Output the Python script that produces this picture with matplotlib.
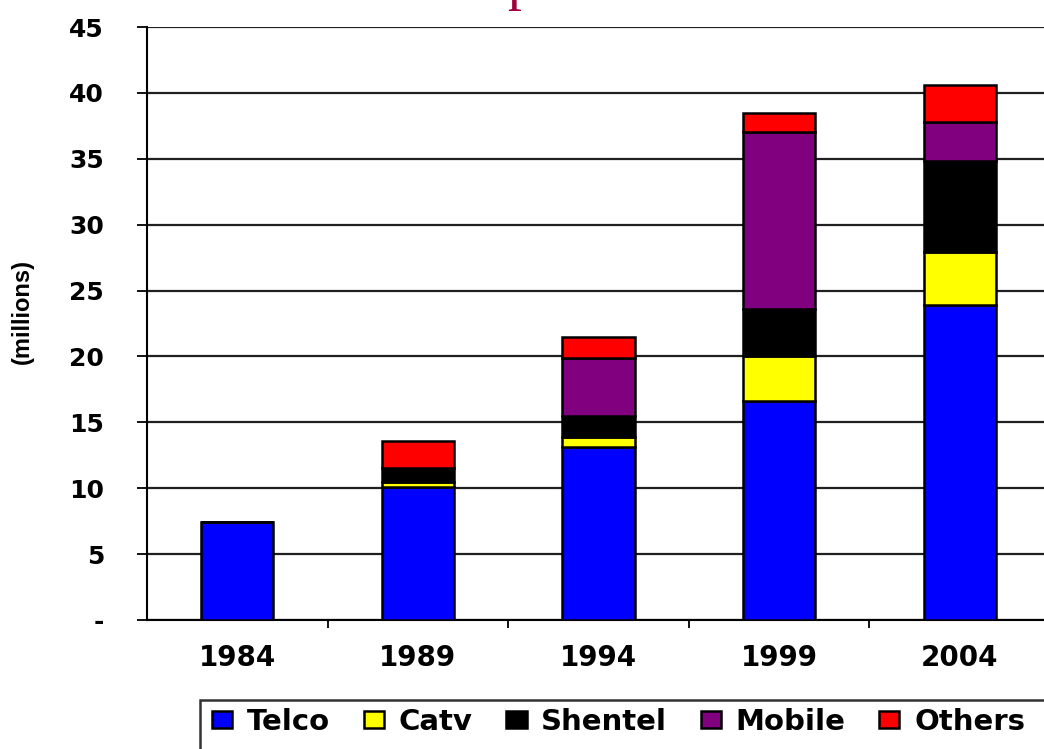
import matplotlib
matplotlib.use('Agg')
import matplotlib.pyplot as plt
from matplotlib.patches import Rectangle
import numpy as np

years = ['1984', '1989', '1994', '1999', '2004']
telco = [7.4, 10.1, 13.1, 16.6, 23.9]
catv = [0.0, 0.4, 0.8, 3.4, 4.0]
shentel = [0.0, 1.0, 1.6, 3.6, 6.9]
mobile = [0.0, 0.0, 4.4, 13.4, 3.0]
others = [0.0, 2.05, 1.6, 1.5, 2.8]

series = [('Telco', telco, '#0000ff'),
          ('Catv', catv, '#ffff00'),
          ('Shentel', shentel, '#000000'),
          ('Mobile', mobile, '#800080'),
          ('Others', others, '#ff0000')]

yticks = [0, 5, 10, 15, 20, 25, 30, 35, 40, 45]
ylabels = ['-', '5', '10', '15', '20', '25', '30', '35', '40', '45']

fig = plt.figure(figsize=(10.44, 7.49), dpi=100)
ax = fig.add_axes([147/1044, 1-620/749, 903/1044, (620-27)/749])

x = np.arange(len(years))
bottom = np.zeros(len(years))
handles = []
for name, vals, col in series:
	b = ax.bar(x, vals, 0.4, bottom=bottom, color=col, edgecolor='black',
		linewidth=1.8, zorder=3, label=name)
	handles.append(b)
	bottom = bottom + np.array(vals)

ax.set_xlim(-0.5, 4.5)
ax.set_ylim(0, 45)
ax.set_yticks(yticks)
ax.set_yticklabels(ylabels, fontsize=18, fontweight='bold')
ax.set_xticks(x)
ax.set_xticklabels(years, fontsize=20, fontweight='bold')
ax.set_xticks(np.arange(0.5, 4.5, 1), minor=True)
ax.tick_params(axis='x', which='major', length=0, pad=17)
ax.tick_params(axis='x', which='minor', length=6, width=1.3, direction='out')
ax.tick_params(axis='y', length=7, width=1.3, pad=24)
ax.yaxis.grid(True, color='#202020', linewidth=1.6, zorder=0)
ax.set_axisbelow(True)
for s in ['top', 'right']:
	ax.spines[s].set_visible(False)
ax.spines['left'].set_linewidth(1.5)
ax.spines['bottom'].set_linewidth(1.5)

fig.text(22/1044, 1-311/749, '(millions)', rotation=90, fontsize=17,
	fontweight='bold', family='Liberation Sans', ha='center', va='center')

# title sits above the picture, only the foot of one letter shows
fig.text(507/1044, 1+1/749, 'p', fontsize=40, family='Liberation Serif',
	color='#a0003c', ha='left', va='baseline')

# legend box running off the figure
fig.patches.append(Rectangle((200/1044, -0.1), 0.9, 0.1+(749-700)/749,
	transform=fig.transFigure, facecolor='white', edgecolor='#333333',
	linewidth=1.8, clip_on=False))
leg = fig.legend(handles=handles, loc='center left', ncol=5,
	bbox_to_anchor=(212/1044, 1-722/749), frameon=False,
	prop={'weight': 'bold', 'size': 21}, handlelength=0.7, handleheight=0.5,
	handletextpad=0.5, columnspacing=1.15, borderpad=0, borderaxespad=0)

fig.savefig('out.png', dpi=100)
